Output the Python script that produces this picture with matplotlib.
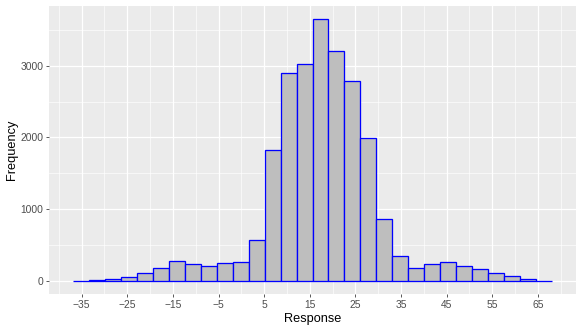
import numpy as np
import matplotlib
matplotlib.use("Agg")
import matplotlib.pyplot as plt
from matplotlib.ticker import FixedLocator

# Histogram data (30 bins, width 3.5)
bin_start = -36.9
bin_width = 3.5
counts = [5, 10, 24, 60, 107, 181, 279, 237, 209, 251,
          270, 572, 1828, 2893, 3028, 3651, 3200, 2791, 1986, 865,
          353, 181, 233, 261, 209, 163, 112, 65, 28, 5]
x_ticks = [-35, -25, -15, -5, 5, 15, 25, 35, 45, 55, 65]
y_ticks = [0, 1000, 2000, 3000]

edges = bin_start + bin_width * np.arange(len(counts) + 1)
centers = (edges[:-1] + edges[1:]) / 2

plt.rcParams['font.family'] = ['Liberation Sans', 'DejaVu Sans']
dpi = 72
fig = plt.figure(figsize=(581 / dpi, 332 / dpi), dpi=dpi)
W, H = 581, 332
ax = fig.add_axes([49 / W, (H - 294) / H, (576 - 49) / W, (294 - 6) / H])
ax.set_facecolor('#EBEBEB')

xr = edges[-1] - edges[0]
ax.set_xlim(edges[0] - 0.05 * xr, edges[-1] + 0.05 * xr)
ymax = max(counts)
ax.set_ylim(-0.05 * ymax, ymax * 1.05)

ax.xaxis.set_major_locator(FixedLocator(x_ticks))
ax.xaxis.set_minor_locator(FixedLocator([t + 5 for t in x_ticks] + [x_ticks[0] - 5]))
ax.yaxis.set_major_locator(FixedLocator(y_ticks))
ax.yaxis.set_minor_locator(FixedLocator([500, 1500, 2500, 3500]))
ax.grid(which='major', color='white', linewidth=1.3)
ax.grid(which='minor', color='white', linewidth=0.65)
ax.set_axisbelow(True)

ax.bar(centers, counts, width=bin_width, color='#BEBEBE', edgecolor='#0000FF',
       linewidth=1.3, zorder=3)

for s in ax.spines.values():
    s.set_visible(False)
ax.tick_params(which='major', length=3.2, width=0.8, color='#333333',
               labelcolor='#4D4D4D', labelsize=10.2, pad=2.5)
ax.tick_params(which='minor', length=0)
ax.set_xticklabels([str(t).replace('-', '\u2212') for t in x_ticks])
ax.set_yticklabels([str(t) for t in y_ticks])
ax.set_xlabel('Response', fontsize=12.8, color='black', labelpad=3)
ax.set_ylabel('Frequency', fontsize=12.8, color='black', labelpad=2.5)

fig.savefig('out.png', dpi=dpi)
